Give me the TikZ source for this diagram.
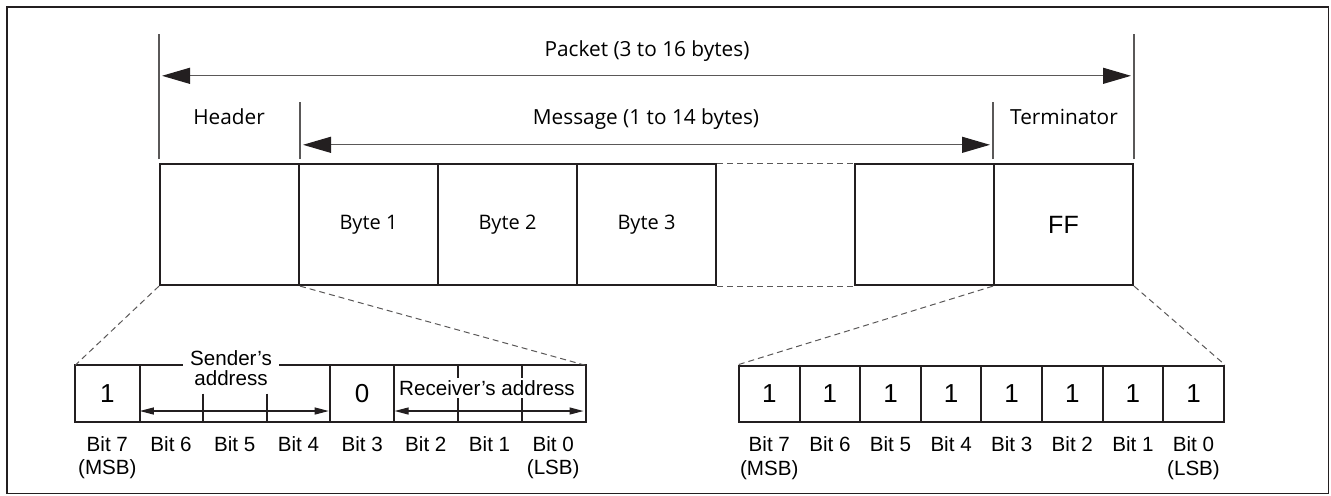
\documentclass[tikz,border=0pt]{standalone}
\usepackage{fontspec}
\setmainfont{Liberation Sans}
\newfontfamily\labelfont{Open Sans}
\usetikzlibrary{arrows.meta}

\definecolor{ink}{HTML}{231F20}
\definecolor{guide}{HTML}{5A5858}

\begin{document}
\begin{tikzpicture}[x=0.5pt,y=-0.5pt,
  bytebox/.style={draw=ink,line width=1pt,minimum width=69.5pt,minimum height=60.5pt,inner sep=0pt,font=\labelfont\fontsize{10}{12}\selectfont},
  bitcell/.style={minimum width=31.85pt,minimum height=28pt,inner sep=0pt,font=\fontsize{13}{15}\selectfont},
  onecell/.style={bitcell,draw=ink,line width=1pt,minimum width=30.3pt},
  bitname/.style={anchor=base,inner sep=0pt,font=\fontsize{10.3}{12}\selectfont},
  toplabel/.style={anchor=base,inner sep=0pt,font=\labelfont\fontsize{10.4}{12}\selectfont},
  guideline/.style={guide,line width=0.6pt},
  sizearrow/.style={guideline,{Triangle[length=14pt,width=8pt,color=ink]}-{Triangle[length=14pt,width=8pt,color=ink]},shorten <=1.5pt,shorten >=1.5pt},
  fieldarrow/.style={ink,line width=0.6pt,{Triangle[length=7pt,width=3.5pt]}-{Triangle[length=7pt,width=3.5pt]},shorten <=0.5pt,shorten >=1pt},
  zoomline/.style={guide,line width=0.5pt,dash pattern=on 3pt off 2pt}]

  \useasboundingbox (0,0) rectangle (1331,495);
  \draw[ink,line width=0.9pt] (7,7) rectangle (1328.5,493.5);

  \draw (229.5,224.6) node[bytebox] (hdr) {};
  \draw (368.5,224.6) node[bytebox] (b1) {Byte 1};
  \draw (507.5,224.6) node[bytebox] (b2) {Byte 2};
  \draw (646.5,224.6) node[bytebox] (b3) {Byte 3};
  \draw (924.5,224.6) node[bytebox] (bn) {};
  \draw (1063.5,224.6) node[bytebox,font=\fontsize{12.5}{14}\selectfont] (term) {FF};

  \draw[zoomline] (b3.north east) -- (bn.north west);
  \draw[zoomline] (b3.south east) -- (bn.south west);

  \draw[guideline] ([yshift=2pt]hdr.north west) -- ++(0,-125) coordinate (pktL);
  \draw[guideline] ([yshift=2pt]term.north east) -- ++(0,-125) coordinate (pktR);
  \draw[guideline] ([yshift=2pt]hdr.north east) -- ++(0,-57) coordinate (msgL);
  \draw[guideline] ([yshift=2pt]term.north west) -- ++(0,-57) coordinate (msgR);

  \draw[sizearrow] ([yshift=-20.85pt]pktL) -- ([yshift=-20.85pt]pktR);
  \draw[sizearrow] ([yshift=-21.35pt]msgL) -- ([yshift=-21.35pt]msgR);

  \draw (647,56.7) node[toplabel] (pktname) {Packet (3 to 16 bytes)};
  \draw (229,124) node[toplabel] (hdrname) {Header};
  \draw (646,124) node[toplabel] (msgname) {Message (1 to 14 bytes)};
  \draw (1064,124) node[toplabel] (termname) {Terminator};

  \foreach \bitno [count=\i from 0] in {7,6,...,0} {
    \draw (107.35+63.7*\i,393.7) node[bitcell] (l\bitno) {};
    \draw (769.3+60.6*\i,393.7) node[onecell] (r\bitno) {1};
    \draw (107.35+63.7*\i,451) node[bitname] {Bit \bitno};
    \draw (769.3+60.6*\i,451) node[bitname] {Bit \bitno};
  }
  \draw (l7) node[bitcell] {1};
  \draw (l3) node[bitcell] {0};

  \draw (l7.south) ++(0,52.3) node[bitname] (msbl) {(MSB)};
  \draw (l0.south) ++(0,52.3) node[bitname] (lsbl) {(LSB)};
  \draw (r7.south) ++(0,52.3) node[bitname] (msbr) {(MSB)};
  \draw (r0.south) ++(0,52.3) node[bitname] (lsbr) {(LSB)};

  \draw[ink,line width=1pt] (l7.north west) rectangle (l0.south east);
  \draw[ink,line width=1pt] (l7.north east) -- (l7.south east)
    (l3.north west) -- (l3.south west)
    (l3.north east) -- (l3.south east)
    (l2.north east) -- (l2.south east)
    (l1.north east) -- (l1.south east)
    (l6.east) -- (l6.south east)
    (l5.east) -- (l5.south east);

  \draw (231,368) node[fill=white,align=center,inner xsep=3.75pt,inner ysep=1pt,font=\fontsize{10.3}{10}\selectfont] (sender) {Sender’s\\address};
  \draw (487,388) node[fill=white,inner sep=1pt,font=\fontsize{10.3}{12}\selectfont] (receiver) {Receiver’s address};

  \draw[fieldarrow] ([yshift=-8.65pt]l6.west) -- ([yshift=-8.65pt]l4.east);
  \draw[fieldarrow] ([yshift=-8.65pt]l2.west) -- ([yshift=-8.65pt]l0.east);

  \draw[zoomline] (hdr.south west) -- (l7.north west);
  \draw[zoomline] (hdr.south east) -- (l0.north east);
  \draw[zoomline] (term.south west) -- (r7.north west);
  \draw[zoomline] (term.south east) -- (r0.north east);

\end{tikzpicture}
\end{document}
